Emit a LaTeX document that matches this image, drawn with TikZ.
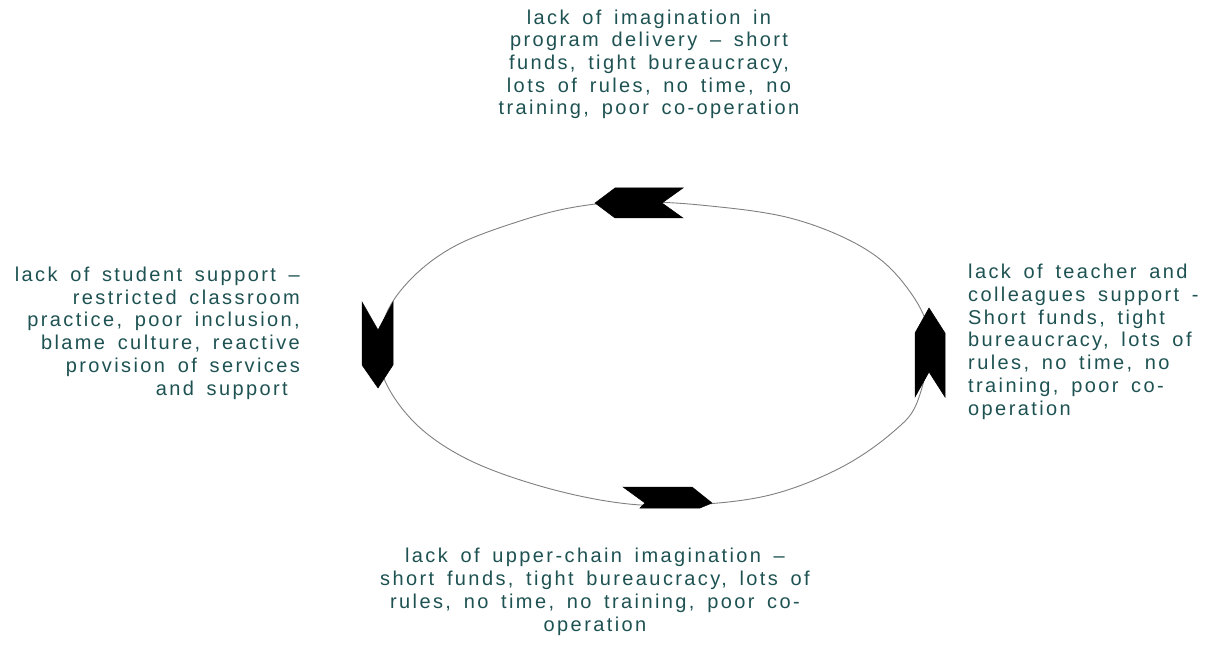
\documentclass[tikz,border=0pt]{standalone}
\usepackage{fontspec}
\setmainfont{Liberation Sans}[LetterSpace=12,WordSpace=1.6]
\definecolor{txt}{RGB}{30,82,82}
\definecolor{loop}{RGB}{128,128,128}
\begin{document}
\begin{tikzpicture}[x=1pt,y=-1pt,
  lbl/.style={text=txt,inner sep=0pt,font=\fontsize{20}{22.7}\selectfont},
  chev/.style={fill=black,draw=black,line width=0.5pt,line join=miter},
  cyc/.style={draw=loop,line width=0.9pt}]
\useasboundingbox[fill=white] (0,0) rectangle (1205,663);
% cycle line
\draw[cyc] plot[smooth cycle,tension=0.6] coordinates {
 (630,202) (700,205) (790,218) (862,247) (905,285) (929,335) (918,400)
 (893,432) (840,468) (770,495) (690,505) (620,503) (540,486) (465,458)
 (412,420) (381,370) (384,320) (410,280) (455,246) (520,221) (575,207)};
% arrows
\fill[chev] (595,203) -- (615,188) -- (683,188) -- (662,203) -- (683,218) -- (615,218) -- cycle;
\fill[chev] (378,388) -- (362,365) -- (362,302) -- (378,330) -- (393,302) -- (393,365) -- cycle;
\fill[chev] (712,503) -- (692,487) -- (623,487) -- (645,503) -- (640,508) -- (700,508) -- cycle;
\fill[chev] (929,308) -- (945,333) -- (945,397) -- (929,372) -- (915,397) -- (915,333) -- cycle;
% labels (base anchor = baseline of last line)
\node[lbl,align=center,anchor=base] (top) at (649,115)
 {lack of imagination in\\program delivery – short\\funds, tight bureaucracy,\\lots of rules, no time, no\\training, poor co-operation};
\node[lbl,align=right,anchor=base east] (left) at (300,395)
 {lack of student support –\\restricted classroom\\practice, poor inclusion,\\blame culture, reactive\\provision of services\\and support\hspace*{12pt}};
\node[lbl,align=left,anchor=base west] (right) at (968,415)
 {lack of teacher and\\colleagues support -\\Short funds, tight\\bureaucracy, lots of\\rules, no time, no\\training, poor co-\\operation};
\node[lbl,align=center,anchor=base] (bottom) at (595,631)
 {lack of upper-chain imagination –\\short funds, tight bureaucracy, lots of\\rules, no time, no training, poor co-\\operation};
\end{tikzpicture}
\end{document}
